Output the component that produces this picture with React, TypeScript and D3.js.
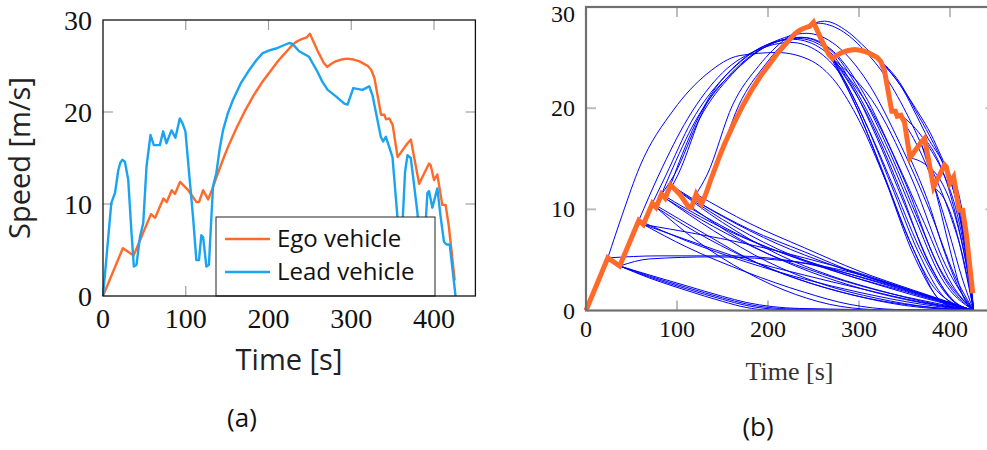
import React from "react";
import * as d3 from "d3";

type P = [number, number];

const xTicks = [0, 100, 200, 300, 400];
const yTicks = [0, 10, 20, 30];
const legendLabels = ["Ego vehicle", "Lead vehicle"];

const egoSpeed: P[] = [
  [0, 0], [24, 5.2], [37, 4.4], [58, 8.9], [63, 8.5], [73, 10.6], [77, 10.2], [83, 11.5], [87, 11.1],
  [93, 12.4], [103, 11.5], [113, 10.2], [116, 10.2], [121, 11.5], [127, 10.5], [132, 11.6], [137, 12.9], [142, 14.1], [147, 15.3],
  [152, 16.4], [157, 17.4], [162, 18.4], [167, 19.3], [172, 20.2], [177, 21.0], [182, 21.8], [187, 22.5], [192, 23.2], [197, 23.8], [202, 24.4], [207, 25.0], [212, 25.6], [217, 26.1], [221, 26.5], [225, 26.9],
  [229, 27.3], [233, 27.6], [237, 27.8], [241, 27.95], [246, 28.1], [250, 28.5], [259, 26.7], [267, 25.3], [271, 24.9], [276, 25.25], [281, 25.5],
  [288, 25.7], [295, 25.8], [303, 25.7], [310, 25.5], [316, 25.2], [320, 25.0], [324, 24.6], [328, 23.7], [336, 19.7], [340, 19.7], [342, 19.2],
  [346, 19.3], [350, 18.6], [356, 15.1], [368, 16.6], [372, 17.0], [382, 12.2], [394, 14.4], [396, 14.2],
  [400, 12.6], [404, 13.2], [410, 9.9], [414, 9.9], [418, 7.5], [425, 1.7],
];

const leadSpeed: P[] = [
  [0, 0], [5, 5], [10, 10.1], [14.5, 11.2], [18.5, 13.7], [21, 14.5], [23.5, 14.8], [26.5, 14.6], [30.5, 12.6],
  [34.5, 6.8], [37.3, 3.2], [40.5, 3.4], [44.6, 6.4], [48.6, 7.9], [52.6, 14.1], [57.4, 17.5], [61.4, 16.4],
  [68.7, 16.4], [72.7, 17.9], [76.7, 16.6], [82.7, 18.0], [87.5, 17.2], [92.8, 19.3], [96, 18.8],
  [99.6, 17.9], [104.8, 12.6], [108.8, 8.6], [112.8, 3.9], [116, 3.9], [118.8, 6.6], [121, 6.4],
  [124.9, 3.2], [128, 3.4], [132.9, 11.9], [137, 13.4], [141, 16.0], [145, 18.0], [151, 19.9], [157, 21.3], [167, 23.2], [177, 24.6],
  [185, 25.6], [193, 26.4], [201, 26.7], [209, 26.9], [217, 27.2], [225, 27.5], [229, 27.4], [237, 26.6], [243, 26.3], [249, 26.0], [259, 24.4],
  [265, 23.3], [271.5, 22.4], [281.5, 21.7], [291.6, 20.9], [295.5, 20.8], [302.4, 22.6], [313.6, 22.4],
  [321.7, 22.8], [325.7, 21.8], [335.7, 17.3], [338.5, 16.8], [341.8, 17.3], [345.8, 16.2],
  [349.8, 15.1], [355.8, 8.6], [358.5, 4], [362, 8], [365, 13.5], [367.9, 15.3], [371.9, 15.0],
  [376, 12], [380, 9.0], [384, 4], [388, 5], [392, 11.2], [394, 11.4], [398, 9.6], [404, 11.7],
  [408, 8.6], [412, 5.9], [415, 5.6], [419, 5.6], [426, 0],
];

const riseBranches: P[][] = [
  [[24, 5.2], [40, 9.5], [59, 14.2], [96, 19.8], [133, 23.4], [169, 25.2], [210, 25.5], [245, 24.8], [275, 22.5], [300, 18.8], [329, 12.9], [360, 6.0], [389, 1.0], [410, 0.2], [426, 0]],
  [[58, 8.9], [80, 13.4], [112, 19.0], [150, 23.5], [190, 25.8], [225, 26.5], [255, 25.6], [280, 23.3], [310, 18.0], [340, 11.8], [370, 5.5], [400, 1.2], [426, 0]],
  [[73, 10.6], [88, 13.4], [116, 18.7], [150, 22.9], [190, 25.9], [228, 26.8], [260, 25.8], [290, 22.5], [320, 17.0], [350, 10.5], [380, 4.2], [405, 0.8], [426, 0]],
  [[77, 10.2], [92, 13.4], [120, 18.7], [155, 23.0], [195, 26.0], [232, 26.9], [265, 25.8], [295, 22.0], [330, 15.8], [360, 9.5], [390, 3.3], [426, 0]],
  [[83, 11.5], [97, 13.4], [125, 19.0], [160, 23.3], [200, 26.2], [235, 27.0], [268, 25.8], [300, 21.8], [335, 15.4], [365, 9.0], [395, 3.0], [426, 0]],
  [[87, 11.1], [101, 13.4], [131, 20.2], [165, 23.8], [205, 26.4], [238, 27.0], [272, 25.6], [305, 21.5], [340, 15.0], [372, 8.6], [402, 2.6], [426, 0]],
  [[93, 12.4], [106, 15.5], [135, 21.0], [170, 24.6], [210, 26.7], [242, 27.4], [275, 26.2], [310, 22.5], [345, 16.5], [378, 9.8], [405, 3.5], [426, 0]],
  [[121, 11.5], [133, 13.4], [161, 20.3], [190, 24.2], [220, 26.9], [245, 28.2], [262, 28.6], [287, 27.6], [308, 25.9], [334, 23.6], [360, 20.3], [385, 16.3], [405, 11.5], [418, 6.0], [426, 0]],
  [[127, 10.5], [140, 13.4], [168, 20.3], [197, 24.3], [228, 27.3], [255, 28.4], [280, 27.7], [305, 25.8], [330, 23.0], [355, 19.0], [380, 14.0], [400, 9.5], [415, 5.0], [426, 0]],
];

const fanBranches: P[][] = [
  [[271, 24.9], [300, 19.5], [329, 12.9], [360, 5.5], [389, 1.0], [410, 0.1], [426, 0]],
  [[271, 24.9], [305, 19.0], [335, 12.5], [365, 5.8], [395, 1.2], [426, 0]],
  [[271, 24.9], [310, 19.2], [345, 12.0], [375, 5.0], [405, 0.9], [426, 0]],
  [[271, 24.9], [315, 19.5], [352, 12.4], [385, 4.8], [426, 0]],
  [[271, 24.9], [320, 20.0], [360, 12.6], [395, 4.5], [426, 0]],
  [[267, 25.3], [295, 20.5], [325, 14.0], [355, 7.0], [385, 2.0], [426, 0]],
];

const lateBranches: P[][] = [
  [[324, 24.6], [348, 21.9], [363, 19.3], [376, 17.0], [392, 14.6], [405, 11.5], [416, 6.5], [426, 0]],
  [[320, 25.0], [345, 22.5], [362, 19.8], [378, 17.2], [394, 14.2], [407, 10.8], [418, 5.5], [426, 0]],
  [[346, 19.3], [362, 18.0], [378, 16.0], [393, 13.5], [408, 9.5], [418, 5.0], [426, 0]],
  [[340, 19.7], [360, 17.0], [380, 13.0], [398, 8.0], [414, 3.0], [426, 0]],
  [[356, 15.1], [372, 14.5], [390, 12.8], [405, 9.5], [417, 5.0], [426, 0]],
  [[356, 15.1], [375, 11.0], [395, 5.5], [412, 1.8], [426, 0]],
  [[372, 17.0], [385, 15.2], [398, 12.2], [410, 8.0], [420, 3.5], [426, 0]],
  [[382, 12.2], [395, 10.8], [408, 7.5], [418, 3.5], [426, 0]],
  [[394, 14.4], [404, 12.5], [413, 9.0], [421, 4.0], [426, 0]],
  [[404, 13.2], [412, 10.5], [420, 5.5], [426, 0]],
  [[368, 16.6], [385, 11.5], [400, 6.0], [414, 1.5], [426, 0]],
];

const decayBranches: P[][] = [
  [[24, 5.2], [80, 5.4], [160, 5.4], [240, 4.7], [290, 3.8], [350, 2.2], [400, 0.7], [426, 0]],
  [[37, 4.4], [70, 5.1], [140, 5.3], [230, 4.8], [290, 3.6], [360, 1.8], [405, 0.5], [426, 0]],
  [[37, 4.4], [70, 3.2], [110, 2.0], [150, 0.9], [176, 0.3], [200, 0.05], [426, 0]],
  [[37, 4.4], [70, 3.3], [110, 2.15], [150, 1.1], [176, 0.5], [215, 0.1], [426, 0]],
  [[37, 4.4], [70, 3.4], [110, 2.3], [150, 1.25], [176, 0.65], [225, 0.15], [426, 0]],
  [[37, 4.4], [70, 3.5], [110, 2.45], [150, 1.4], [176, 0.8], [235, 0.2], [426, 0]],
  [[63, 8.5], [120, 7.6], [176, 6.6], [240, 5.2], [300, 3.7], [370, 1.6], [426, 0]],
  [[63, 8.5], [110, 7.0], [176, 5.0], [240, 3.5], [300, 2.2], [370, 0.8], [426, 0]],
  [[63, 8.5], [110, 6.3], [176, 3.8], [240, 1.8], [290, 0.6], [340, 0.1], [426, 0]],
  [[58, 8.9], [110, 6.9], [176, 4.8], [240, 3.1], [300, 1.8], [370, 0.6], [426, 0]],
  [[77, 10.2], [120, 7.8], [176, 5.2], [230, 3.2], [290, 1.6], [350, 0.5], [426, 0]],
  [[77, 10.2], [120, 7.0], [176, 3.8], [230, 1.6], [280, 0.4], [330, 0.05], [426, 0]],
  [[73, 10.6], [130, 7.6], [190, 4.6], [250, 2.6], [310, 1.2], [380, 0.3], [426, 0]],
  [[87, 11.1], [140, 8.3], [200, 5.6], [260, 3.6], [320, 2.0], [380, 0.8], [426, 0]],
  [[87, 11.1], [140, 7.9], [200, 4.8], [260, 2.6], [320, 1.2], [380, 0.3], [426, 0]],
  [[83, 11.5], [140, 8.6], [200, 6.2], [260, 4.4], [320, 2.8], [380, 1.2], [426, 0]],
  [[93, 12.4], [150, 9.3], [210, 6.6], [270, 4.5], [330, 2.7], [385, 1.2], [426, 0]],
  [[93, 12.4], [150, 8.7], [210, 5.6], [270, 3.4], [330, 1.8], [385, 0.6], [426, 0]],
  [[93, 12.4], [150, 9.0], [210, 6.1], [270, 4.0], [330, 2.3], [385, 0.9], [426, 0]],
  [[113, 10.2], [170, 7.4], [230, 5.2], [290, 3.4], [350, 1.9], [400, 0.6], [426, 0]],
  [[127, 10.5], [180, 8.0], [240, 5.8], [300, 3.6], [360, 1.9], [400, 0.7], [426, 0]],
  [[116, 10.2], [170, 7.0], [230, 4.4], [290, 2.5], [350, 1.1], [400, 0.3], [426, 0]],
  [[121, 11.5], [180, 8.6], [240, 6.2], [300, 3.9], [360, 2.0], [400, 0.8], [426, 0]],
];

const SANS = "'Open Sans', 'Noto Sans', sans-serif";
const SERIF = "'Liberation Serif', 'DejaVu Serif', serif";
const ORANGE = "#ff6a2b";
const LIGHTBLUE = "#1aa3f0";
const BLUE = "#0000ff";

function PanelA() {
  const x = d3.scaleLinear().domain([0, 450]).range([103, 475.4]);
  const y = d3.scaleLinear().domain([0, 30]).range([296, 20]);
  const line = d3.line<P>().x((d) => x(d[0])).y((d) => y(d[1])).curve(d3.curveLinear);
  const [x0, x1] = x.range();
  const [y0, y1] = y.range();
  const tl = 10;
  const lg = { x: 216, y: 217, w: 219, h: 79 };
  return (
    <g>
      {xTicks.slice(1).map((t) => (
        <g key={"xt" + t} stroke="#a0a0a0" strokeWidth={1.2}>
          <line x1={x(t)} x2={x(t)} y1={y0} y2={y0 - tl} />
          <line x1={x(t)} x2={x(t)} y1={y1} y2={y1 + tl} />
        </g>
      ))}
      {yTicks.slice(1, -1).map((v) => (
        <g key={"yt" + v} stroke="#a0a0a0" strokeWidth={1.2}>
          <line x1={x0} x2={x0 + tl} y1={y(v)} y2={y(v)} />
          <line x1={x1} x2={x1 - tl} y1={y(v)} y2={y(v)} />
        </g>
      ))}
      <path d={line(egoSpeed) || ""} fill="none" stroke={ORANGE} strokeWidth={2.4} strokeLinejoin="round" />
      <path d={line(leadSpeed) || ""} fill="none" stroke={LIGHTBLUE} strokeWidth={2.4} strokeLinejoin="round" />
      <rect x={lg.x} y={lg.y} width={lg.w} height={lg.h} fill="#fff" stroke="#222" strokeWidth={1} />
      {legendLabels.map((lab, i) => (
        <g key={lab}>
          <line x1={225} x2={270} y1={239 + i * 33} y2={239 + i * 33} stroke={i === 0 ? ORANGE : LIGHTBLUE} strokeWidth={2.4} />
          <text x={277} y={247 + i * 33} fontFamily={SANS} fontSize={24} fill="#111">{lab}</text>
        </g>
      ))}
      <rect x={x0} y={y1} width={x1 - x0} height={y0 - y1} fill="none" stroke="#111" strokeWidth={1.3} />
      {xTicks.map((t) => (
        <text key={"xl" + t} x={x(t)} y={328} textAnchor="middle" fontFamily={SERIF} fontSize={28} fill="#111">{t}</text>
      ))}
      {yTicks.map((v) => (
        <text key={"yl" + v} x={92} y={y(v) + 10} textAnchor="end" fontFamily={SERIF} fontSize={28} fill="#111">{v}</text>
      ))}
      <text x={289} y={370} textAnchor="middle" fontFamily={SANS} fontSize={29} fill="#222">Time [s]</text>
      <text transform={`translate(30,158) rotate(-90)`} textAnchor="middle" fontFamily={SANS} fontSize={29} fill="#222">Speed [m/s]</text>
      <text x={242} y={427} textAnchor="middle" fontFamily={SANS} fontSize={26} fill="#111">(a)</text>
    </g>
  );
}

function PanelB() {
  const x = d3.scaleLinear().domain([0, 450]).range([586, 995.5]);
  const y = d3.scaleLinear().domain([0, 30]).range([310.5, 7]);
  const smooth = d3.line<P>().x((d) => x(d[0])).y((d) => y(d[1])).curve(d3.curveMonotoneX);
  const sharp = d3.line<P>().x((d) => x(d[0])).y((d) => y(d[1])).curve(d3.curveLinear);
  const [x0, x1] = x.range();
  const [y0, y1] = y.range();
  const tl = 10;
  const branches = [...decayBranches, ...riseBranches, ...fanBranches, ...lateBranches];
  return (
    <g>
      {xTicks.slice(1).map((t) => (
        <g key={"xt" + t} stroke="#bdbdbd" strokeWidth={2}>
          <line x1={x(t)} x2={x(t)} y1={y0} y2={y0 - tl} />
          <line x1={x(t)} x2={x(t)} y1={y1} y2={y1 + tl} />
        </g>
      ))}
      {yTicks.slice(1, -1).map((v) => (
        <g key={"yt" + v} stroke="#bdbdbd" strokeWidth={2}>
          <line x1={x0} x2={x0 + tl} y1={y(v)} y2={y(v)} />
          <line x1={x1} x2={x1 - tl} y1={y(v)} y2={y(v)} />
        </g>
      ))}
      {branches.map((b, i) => (
        <path key={"br" + i} d={smooth(b) || ""} fill="none" stroke={BLUE} strokeWidth={1} />
      ))}
      <path d={sharp(egoSpeed) || ""} fill="none" stroke={ORANGE} strokeWidth={5} strokeLinejoin="miter" />
      <rect x={x0} y={y1} width={x1 - x0} height={y0 - y1} fill="none" stroke="#707070" strokeWidth={2.2} />
      {xTicks.map((t) => (
        <text key={"xl" + t} x={x(t)} y={337} textAnchor="middle" fontFamily={SERIF} fontSize={24} fill="#111">{t}</text>
      ))}
      {yTicks.map((v) => (
        <text key={"yl" + v} x={575} y={Math.max(y(v) + 8, 22)} textAnchor="end" fontFamily={SERIF} fontSize={24} fill="#111">{v}</text>
      ))}
      <text x={789.5} y={380} textAnchor="middle" fontFamily={SERIF} fontSize={26} fill="#333">Time [s]</text>
      <text x={758} y={436} textAnchor="middle" fontFamily={SANS} fontSize={26} fill="#111">(b)</text>
    </g>
  );
}

export default function App() {
  return (
    <svg
      width={987}
      height={450}
      viewBox="0 0 987 450"
      style={{ position: "absolute", left: 0, top: 0, background: "#fff" }}
    >
      <rect x={0} y={0} width={987} height={450} fill="#fff" />
      <PanelA />
      <PanelB />
    </svg>
  );
}
